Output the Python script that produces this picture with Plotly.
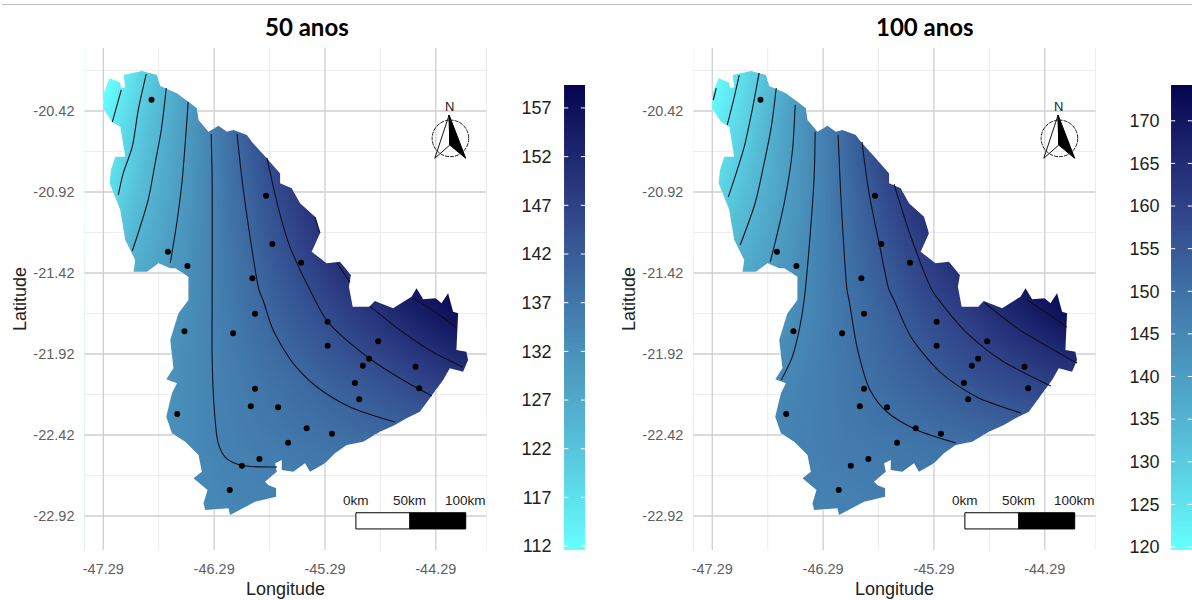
import plotly.graph_objects as go

W, H = 1192, 600
LAYOUT_H = 607

# ---- basin outline (lon, lat) ----
basin_lon = [-47.233,-47.137,-47.131,-47.092,-47.107,-46.941,-46.806,-46.776,-46.626,-46.522,-46.446,-46.431,-46.341,-46.251,-46.176,-46.116,-45.995,-45.95,-45.815,-45.695,-45.695,-45.59,-45.515,-45.38,-45.335,-45.41,-45.275,-45.155,-45.056,-45.074,-45.04,-44.891,-44.84,-44.675,-44.509,-44.464,-44.404,-44.29,-44.239,-44.179,-44.134,-44.089,-44.104,-44.014,-43.999,-44.044,-44.164,-44.224,-44.434,-44.554,-44.659,-44.794,-44.945,-45.094,-45.2,-45.29,-45.425,-45.47,-45.576,-45.68,-45.68,-45.74,-45.725,-45.831,-45.801,-45.731,-45.731,-45.921,-46.146,-46.161,-46.371,-46.386,-46.35,-46.476,-46.401,-46.431,-46.551,-46.671,-46.722,-46.671,-46.626,-46.722,-46.657,-46.686,-46.641,-46.612,-46.522,-46.522,-46.641,-46.686,-46.792,-46.896,-47.017,-47.002,-47.092,-47.137,-47.197,-47.233,-47.221,-47.182,-47.092,-47.137,-47.212,-47.293,-47.287]
basin_lat = [-20.218,-20.245,-20.28,-20.274,-20.198,-20.173,-20.198,-20.266,-20.311,-20.363,-20.403,-20.476,-20.548,-20.511,-20.548,-20.537,-20.568,-20.61,-20.712,-20.805,-20.866,-20.897,-20.99,-21.072,-21.175,-21.289,-21.36,-21.35,-21.432,-21.505,-21.628,-21.628,-21.593,-21.638,-21.566,-21.514,-21.582,-21.576,-21.607,-21.545,-21.659,-21.669,-21.895,-21.906,-21.957,-22.029,-22.008,-22.081,-22.276,-22.317,-22.358,-22.4,-22.461,-22.482,-22.533,-22.595,-22.647,-22.595,-22.647,-22.636,-22.574,-22.595,-22.647,-22.708,-22.729,-22.749,-22.801,-22.832,-22.914,-22.873,-22.883,-22.842,-22.76,-22.687,-22.647,-22.544,-22.461,-22.41,-22.307,-22.163,-22.101,-22.076,-22.008,-21.834,-21.731,-21.669,-21.587,-21.443,-21.391,-21.391,-21.36,-21.412,-21.412,-21.34,-21.216,-21.031,-20.928,-20.866,-20.784,-20.702,-20.702,-20.517,-20.486,-20.403,-20.311]

# ---- stations ----
station_lon = [-46.855,-45.822,-45.765,-46.707,-46.531,-45.506,-45.945,-46.558,-45.921,-46.119,-45.266,-45.266,-44.81,-44.891,-44.948,-44.473,-45.02,-44.44,-44.981,-45.921,-45.959,-45.713,-46.623,-45.455,-45.227,-45.623,-45.882,-46.04,-46.149]
station_lat = [-20.35,-20.943,-21.241,-21.289,-21.377,-21.356,-21.453,-21.78,-21.671,-21.792,-21.721,-21.869,-21.842,-21.949,-21.992,-21.998,-22.099,-22.132,-22.2,-22.134,-22.243,-22.249,-22.29,-22.379,-22.412,-22.468,-22.568,-22.61,-22.76]

# ---- interpolated rainfall field, nodes ----
grid_lon = [-47.4,-47.0,-46.6,-46.2,-45.8,-45.4,-45.0,-44.6,-44.2,-43.8]
grid_lat = [-20.1,-20.5,-20.9,-21.3,-21.7,-22.1,-22.5,-22.9,-23.3]
field_50 = [
 [106,117,127,137.5,147,154,160,165,170,174],
 [111,120,128.6,137.5,146.4,153.4,159,163,166,168],
 [113.5,122.4,129.7,137,144,150.8,156,160,163,165],
 [118,125.4,131,136.5,142,147.6,153.5,158,161,163],
 [124,128.5,132,136,140,143.8,147.8,152,155.8,159],
 [127,129.5,132.5,135.5,137.8,140,142.5,145,147.8,150.5],
 [129,130.5,133,135.2,136.3,137.3,138.3,139,140.2,141.5],
 [130,131.5,133,134,134.5,135,135.5,136,136.5,137],
 [130,131.5,133,134,134.5,135,135.5,136,136.5,137],
]
field_100 = [
 [116,126,137.2,149,160,167,172,176,179,182],
 [119.5,128.8,139.7,148.9,159.5,167.5,172,175,178,180],
 [124,132.5,140.2,148.6,156.6,165,171.7,175,177,179],
 [129.5,136,142,148.4,154.4,160.5,166.5,172,175,177],
 [134,139.5,143.5,148,152.4,156.7,160.8,165.5,170,174],
 [140,142.5,145.5,148,150.7,153.4,156,158.2,160.4,163],
 [143,145,146.5,147.7,148.5,149.2,150,151,152,153],
 [144,145,146,146.5,147,147.5,148,148.5,149,149.5],
 [144,145,146,146.5,147,147.5,148,148.5,149,149.5],
]

# ---- isolines, 50 anos ----
iso50_lon = [
 [-47.128,-47.209],
 [-46.903,-46.975,-47.029,-47.11,-47.155],
 [-46.722,-46.767,-46.822,-46.885,-46.975,-47.029],
 [-46.524,-46.551,-46.578,-46.623,-46.686],
 [-46.317,-46.308,-46.308,-46.308,-46.29,-46.254,-46.191,-46.056,-45.722],
 [-46.083,-46.038,-45.966,-45.885,-45.849,-45.758,-45.578,-45.362,-45.065,-44.659],
 [-45.813,-45.713,-45.605,-45.425,-45.263,-44.894,-44.587,-44.326],
 [-45.38,-45.335,None,-45.182,-45.065,None,-44.885,-44.614,-44.317,-44.047],
 [-44.497,-44.281,-44.101],
]
iso50_lat = [
 [-20.29,-20.488],
 [-20.192,-20.414,-20.642,-20.803,-20.939],
 [-20.278,-20.537,-20.741,-20.969,-21.173,-21.284],
 [-20.364,-20.618,-20.846,-21.093,-21.358],
 [-20.562,-20.846,-21.525,-21.957,-22.247,-22.469,-22.556,-22.605,-22.618],
 [-20.562,-20.846,-21.198,-21.525,-21.587,-21.772,-21.976,-22.124,-22.247,-22.34],
 [-20.71,-21.013,-21.26,-21.525,-21.722,-21.945,-22.081,-22.179],
 [-21.074,-21.173,None,-21.358,-21.476,None,-21.624,-21.772,-21.908,-22.0],
 [-21.574,-21.667,-21.76],
]
# ---- isolines, 100 anos ----
iso100_lon = [
 [-47.254,-47.281],
 [-47.047,-47.092,-47.155],
 [-46.867,-46.93,-47.002,-47.074,-47.146],
 [-46.713,-46.758,-46.822,-46.903,-47.038],
 [-46.542,-46.569,-46.641,-46.767],
 [-46.362,-46.371,-46.416,-46.461,-46.506,-46.569,-46.668],
 [-46.155,-46.128,-46.074,-46.056,-45.984,-45.867,-45.713,-45.443,-45.092],
 [-45.939,-45.876,-45.777,-45.695,-45.65,-45.497,-45.227,-44.903,-44.506],
 [-45.65,-45.497,-45.308,-45.245,-44.993,-44.686,-44.236],
 [-44.831,-44.515,-44.209,-43.999],
 [-44.452,-44.272,-44.092],
]
iso100_lat = [
 [-20.278,-20.352],
 [-20.198,-20.334,-20.506],
 [-20.185,-20.414,-20.642,-20.803,-20.951],
 [-20.278,-20.519,-20.741,-20.988,-21.247],
 [-20.383,-20.679,-20.988,-21.352],
 [-20.55,-20.827,-21.26,-21.587,-21.772,-21.939,-22.081],
 [-20.568,-20.969,-21.525,-21.587,-21.877,-22.142,-22.278,-22.389,-22.469],
 [-20.611,-20.926,-21.26,-21.525,-21.587,-21.815,-22.037,-22.185,-22.284],
 [-20.871,-21.198,-21.525,-21.587,-21.79,-21.957,-22.118],
 [-21.605,-21.772,-21.895,-21.976],
 [-21.587,-21.667,-21.753],
]

# ---- axes ----
lon_ticks = [-47.29,-46.29,-45.29,-44.29]
lat_ticks = [-20.42,-20.92,-21.42,-21.92,-22.42,-22.92]
lon_minor = [-46.79,-45.79,-44.79]
lat_minor = [-20.17,-20.67,-21.17,-21.67,-22.17,-22.67]
lon_range = [-47.461,-43.831]
lat_range = [-23.130,-20.031]
ticks_50 = [112,117,122,127,132,137,142,147,152,157]
ticks_100 = [120,125,130,135,140,145,150,155,160,165,170]
range_50 = [111.6,159.36]
range_100 = [119.65,174.2]
colors = [[0,"#66FFFF"],[0.25,"#55BBD5"],[0.5,"#4480B0"],[0.75,"#2E3F85"],[1,"#05054F"]]

# ---- map furniture ----
scale_lon = [-45.011,-44.524,-44.02]
scale_lat = [-23.0,-22.90]
scale_text = ["0km","50km","100km"]
arrow_black_lon = [-44.17,-44.02,-44.164]
arrow_black_lat = [-20.445,-20.712,-20.63]
arrow_white_lon = [-44.17,-44.299,-44.164]
arrow_white_lat = [-20.445,-20.712,-20.63]
rose_lon, rose_lat = -44.158, -20.589
rose_rx, rose_ry = 0.165, 0.113

GRID_MAJOR = "#cfcfcf"
GRID_MINOR = "#ececec"

i0 = basin_lon.index(min(basin_lon))
ring_lon = basin_lon[i0:] + basin_lon[:i0] + [basin_lon[i0]]
ring_lat = basin_lat[i0:] + basin_lat[:i0] + [basin_lat[i0]]


def crossings(c, a, b):
    out = []
    for k in range(len(a) - 1):
        a0, a1 = a[k], a[k + 1]
        if (a0 < c) != (a1 < c):
            out.append(b[k] + (c - a0) / (a1 - a0) * (b[k + 1] - b[k]))
    return sorted(out)


def grid_segments(c, a, b, lo, hi):
    """Pieces of the line a == c that lie outside the basin."""
    cuts = [lo] + crossings(c, a, b) + [hi]
    xs, ys = [], []
    for k in range(0, len(cuts) - 1, 2):
        xs += [cuts[k], cuts[k + 1], None]
        ys += [c, c, None]
    return xs, ys


fig = go.Figure()
shapes, annots = [], []


def panel(ax, field, zr, iso_lon, iso_lat, title, title_px):
    xa = "x" if ax == 1 else "x2"
    ya = "y" if ax == 1 else "y2"
    fig.add_trace(go.Heatmap(x=grid_lon, y=grid_lat, z=field, zmin=zr[0], zmax=zr[1], colorscale=colors,
                             zsmooth="best", showscale=False, xaxis=xa, yaxis=ya, hoverinfo="skip"))
    L, R = lon_range[0] - 0.2, lon_range[1] + 0.2
    B, T = lat_range[0] - 0.2, lat_range[1] + 0.2
    y0 = ring_lat[0]
    fig.add_trace(go.Scatter(x=[L, L, R, R, L, L] + ring_lon[::-1] + [L], y=[y0, T, T, B, B, y0] + ring_lat[::-1] + [y0],
                             mode="none", fill="toself", fillcolor="white", xaxis=xa, yaxis=ya,
                             hoverinfo="skip", showlegend=False))
    for vals, col, wd in ((lon_minor, GRID_MINOR, 1), (lat_minor, GRID_MINOR, 1),
                          (lon_ticks, GRID_MAJOR, 1.3), (lat_ticks, GRID_MAJOR, 1.3)):
        xs, ys = [], []
        for c in vals:
            if vals in (lon_minor, lon_ticks):
                b, a = grid_segments(c, ring_lon, ring_lat, *lat_range)
                xs += a; ys += b
            else:
                a, b = grid_segments(c, ring_lat, ring_lon, *lon_range)
                xs += a; ys += b
        fig.add_trace(go.Scatter(x=xs, y=ys, mode="lines", line=dict(color=col, width=wd), xaxis=xa, yaxis=ya,
                                 hoverinfo="skip", showlegend=False))
    for a, b in zip(iso_lon, iso_lat):
        fig.add_trace(go.Scatter(x=a, y=b, mode="lines", line=dict(color="#101020", width=1.1, shape="spline", smoothing=0.8),
                                 xaxis=xa, yaxis=ya, hoverinfo="skip", showlegend=False))
    fig.add_trace(go.Scatter(x=station_lon, y=station_lat, mode="markers", marker=dict(color="black", size=6),
                             xaxis=xa, yaxis=ya, hoverinfo="skip", showlegend=False))
    # scale bar
    shapes.append(dict(type="rect", xref=xa, yref=ya, x0=scale_lon[0], x1=scale_lon[1], y0=scale_lat[0], y1=scale_lat[1],
                       fillcolor="white", line=dict(color="black", width=1), layer="above"))
    shapes.append(dict(type="rect", xref=xa, yref=ya, x0=scale_lon[1], x1=scale_lon[2], y0=scale_lat[0], y1=scale_lat[1],
                       fillcolor="black", line=dict(color="black", width=1), layer="above"))
    for lo, tx in zip(scale_lon, scale_text):
        annots.append(dict(xref=xa, yref=ya, x=lo, y=scale_lat[1], yshift=12, text=tx, showarrow=False,
                           font=dict(family="Liberation Sans", size=13.5, color="#222222")))
    # north arrow
    shapes.append(dict(type="circle", xref=xa, yref=ya, x0=rose_lon - rose_rx, x1=rose_lon + rose_rx,
                       y0=rose_lat - rose_ry, y1=rose_lat + rose_ry, line=dict(color="#222222", width=1, dash="4px,1px"),
                       layer="above"))
    fig.add_trace(go.Scatter(x=arrow_white_lon + arrow_white_lon[:1], y=arrow_white_lat + arrow_white_lat[:1], mode="lines",
                             line=dict(color="#111111", width=1), xaxis=xa, yaxis=ya, fill="toself", fillcolor="white",
                             hoverinfo="skip", showlegend=False))
    fig.add_trace(go.Scatter(x=arrow_black_lon + arrow_black_lon[:1], y=arrow_black_lat + arrow_black_lat[:1], mode="lines",
                             line=dict(color="black", width=1), xaxis=xa, yaxis=ya, fill="toself", fillcolor="black",
                             hoverinfo="skip", showlegend=False))
    annots.append(dict(xref=xa, yref=ya, x=arrow_black_lon[0], y=arrow_black_lat[0], yshift=9, text="N", showarrow=False,
                       font=dict(family="Liberation Sans", size=13, color="#222222")))
    annots.append(dict(xref="paper", yref="paper", x=title_px / W, y=1 - 26 / H, xanchor="center", yanchor="middle",
                       text=f"<b>{title}</b>", showarrow=False, font=dict(family="Lato", size=24, color="black")))


def bar(xa, ya, rng, ticks):
    levels = [rng[0]] + ticks + [rng[1]]
    fig.add_trace(go.Heatmap(x=[0, 1], y=levels, z=[[v, v] for v in levels], zmin=rng[0], zmax=rng[1], colorscale=colors,
                             zsmooth="best", showscale=False, xaxis=xa, yaxis=ya, hoverinfo="skip"))
    xs, ys = [], []
    for t in ticks:
        xs += [0, 0.2, None, 0.8, 1, None]
        ys += [t, t, None, t, t, None]
    fig.add_trace(go.Scatter(x=xs, y=ys, mode="lines", line=dict(color="white", width=1), xaxis=xa, yaxis=ya,
                             hoverinfo="skip", showlegend=False))


def map_axes(d):
    ax = dict(domain=d, showgrid=False, zeroline=False, showline=False, ticks="outside", tickcolor="rgba(0,0,0,0)",
              ticklen=6, tickfont=dict(family="Liberation Sans", size=14.5, color="#5f5f5f"))
    return ax


ydom = [1 - 550 / H, 1 - 48 / H]
title_font = dict(family="Liberation Sans", size=18, color="#222222")
ax_x = dict(range=lon_range, tickvals=lon_ticks, ticktext=[f"{v:.2f}" for v in lon_ticks],
            title=dict(text="Longitude", font=title_font, standoff=5))
ax_y = dict(range=lat_range, tickvals=lat_ticks, ticktext=[f"{v:.2f}" for v in lat_ticks],
            title=dict(text="Latitude", font=title_font, standoff=2))

bar_ydom = [1 - 550 / H, 1 - 85 / H]


def bar_y(rng, ticks, anchor, tlen):
    return dict(domain=bar_ydom, range=rng, tickvals=ticks, ticks="outside", tickcolor="rgba(0,0,0,0)", ticklen=tlen,
                showgrid=False, zeroline=False, showline=False, anchor=anchor,
                tickfont=dict(family="Liberation Sans", size=18, color="#222222"))


def bar_x(d, anchor):
    return dict(domain=d, range=[0, 1], visible=False, anchor=anchor)


fig.update_layout(
    width=W, height=LAYOUT_H, margin=dict(l=0, r=0, t=0, b=0), paper_bgcolor="white", plot_bgcolor="white", showlegend=False,
    xaxis=dict(map_axes([82.5 / W, 485.5 / W]), anchor="y", **ax_x),
    yaxis=dict(map_axes(ydom), anchor="x", **ax_y),
    xaxis2=dict(map_axes([692.5 / W, 1095.5 / W]), anchor="y2", **ax_x),
    yaxis2=dict(map_axes(ydom), anchor="x2", **ax_y),
    xaxis3=bar_x([563 / W, 584 / W], "y3"),
    yaxis3=bar_y(range_50, ticks_50, "x3", 8),
    xaxis4=bar_x([1171 / W, 1], "y4"),
    yaxis4=bar_y(range_100, ticks_100, "x4", 7),
)

panel(1, field_50, range_50, iso50_lon, iso50_lat, "50 anos", 306)
panel(2, field_100, range_100, iso100_lon, iso100_lat, "100 anos", 925)
bar("x3", "y3", range_50, ticks_50)
bar("x4", "y4", range_100, ticks_100)

shapes.append(dict(type="line", xref="paper", yref="paper", x0=0, x1=1, y0=1 - 4.5 / H, y1=1 - 4.5 / H,
                   line=dict(color="#bdbdbd", width=1)))
fig.update_layout(shapes=shapes, annotations=annots)
fig.write_html("out.html", config={"displayModeBar": False, "responsive": False},
               post_script="document.body.style.margin='0';document.documentElement.style.overflow='hidden';")
